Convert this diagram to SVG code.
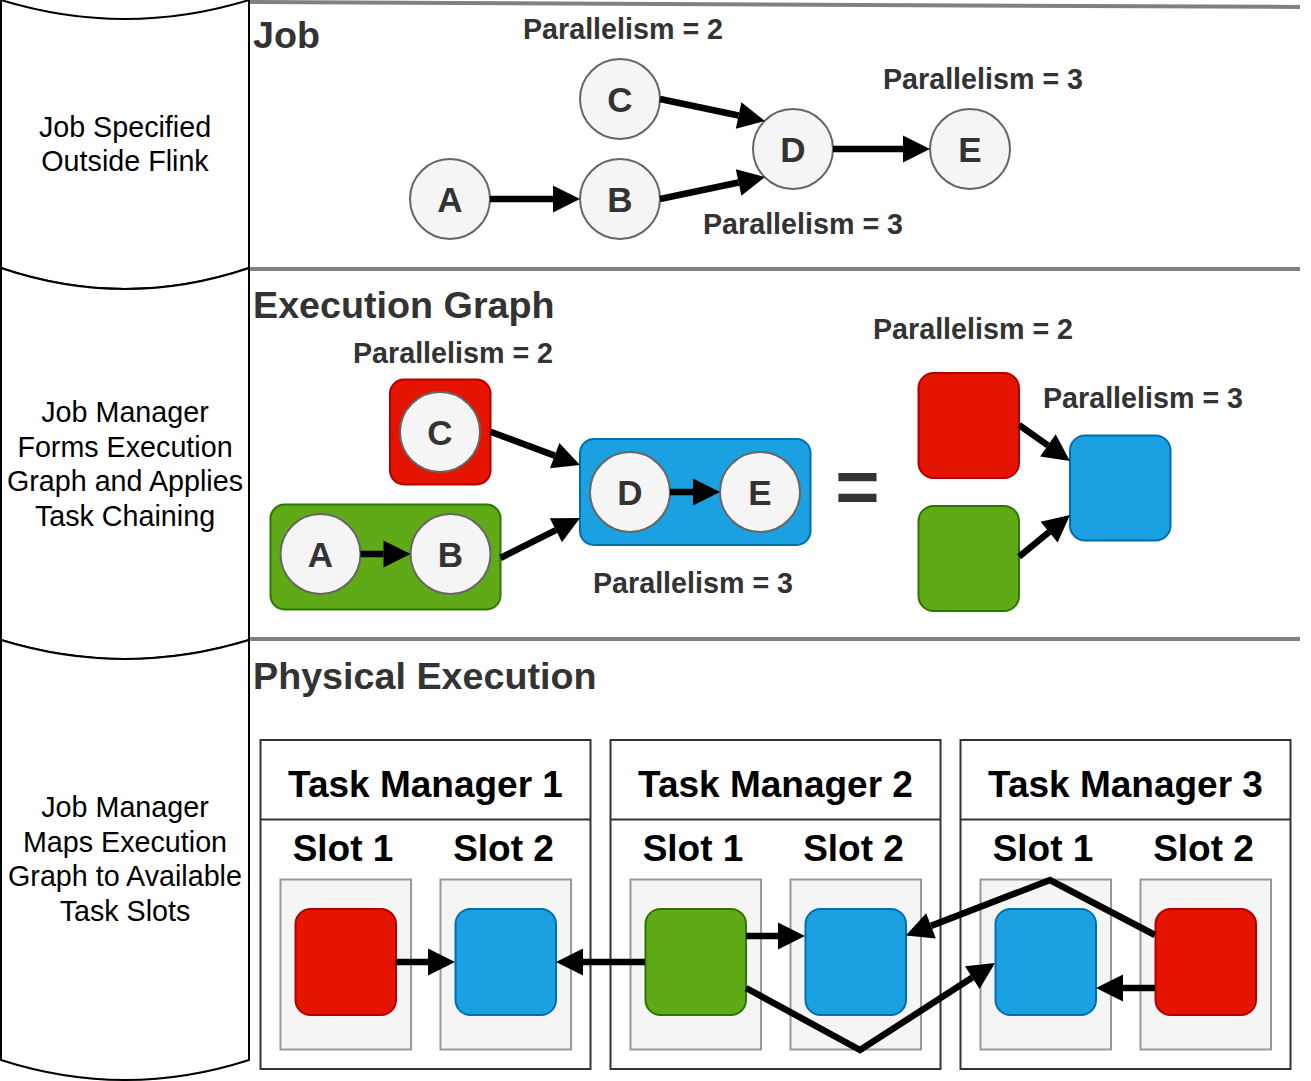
<svg xmlns="http://www.w3.org/2000/svg" width="1311" height="1081" viewBox="0 0 1311 1081">
<style>
text{font-family:"Liberation Sans",Arial,Helvetica,sans-serif}
.lbl{font-size:28.7px;fill:#000;text-anchor:middle}
.par{font-size:28.7px;font-weight:bold;fill:#333;text-anchor:middle}
.hdr{font-size:37.7px;font-weight:bold;fill:#333}
.tm{font-size:37px;font-weight:bold;fill:#000;text-anchor:middle}
.ltr{font-size:35px;font-weight:bold;fill:#333;text-anchor:middle}
.tape{fill:#fff;stroke:#000;stroke-width:2}
.sep{stroke:#808080;stroke-width:4;fill:none}
.circ{fill:#f5f5f5;stroke:#666;stroke-width:2}
.red{fill:#e51400;stroke:#b20000;stroke-width:2}
.blue{fill:#1ba1e2;stroke:#006eaf;stroke-width:2}
.green{fill:#60a917;stroke:#2d7600;stroke-width:2}
.tmbox{fill:#fff;stroke:#333;stroke-width:2}
.slot{fill:#f5f5f5;stroke:#999;stroke-width:2}
.edge{stroke:#000;stroke-width:6.5;fill:none;stroke-linejoin:miter;marker-end:url(#arr)}
</style>
<defs>
<marker id="arr" markerUnits="userSpaceOnUse" markerWidth="28" markerHeight="28" refX="0" refY="13.5" orient="auto" overflow="visible">
<path d="M0,0 L27,13.5 L0,27 Z" fill="#000"/>
</marker>
</defs>
<rect width="1311" height="1081" fill="#fff"/>

<g id="lanes">
<path class="tape" d="M1,0 Q125,38 249,0 L249,268 Q125,310 1,268 Z"/>
<path class="tape" d="M1,268 Q125,310 249,268 L249,640 Q125,678 1,640 Z"/>
<path class="tape" d="M1,640 Q125,678 249,640 L249,1060 Q125,1100 1,1060 Z"/>
<text class="lbl"><tspan x="125" y="137">Job Specified</tspan><tspan x="125" y="171">Outside Flink</tspan></text>
<text class="lbl"><tspan x="125" y="422">Job Manager</tspan><tspan x="125" y="456.5">Forms Execution</tspan><tspan x="125" y="491">Graph and Applies</tspan><tspan x="125" y="525.5">Task Chaining</tspan></text>
<text class="lbl"><tspan x="125" y="817">Job Manager</tspan><tspan x="125" y="851.5">Maps Execution</tspan><tspan x="125" y="886">Graph to Available</tspan><tspan x="125" y="920.5">Task Slots</tspan></text>
<line class="sep" x1="250" y1="2" x2="1300" y2="7"/>
<line class="sep" x1="250" y1="269" x2="1300" y2="269"/>
<line class="sep" x1="250" y1="639" x2="1300" y2="639"/>
</g>

<g id="titles">
<text class="hdr" x="253" y="48">Job</text>
<text class="hdr" x="253" y="318">Execution Graph</text>
<text class="hdr" x="253" y="689">Physical Execution</text>
<text class="par" x="623" y="39">Parallelism = 2</text>
<text class="par" x="983" y="89">Parallelism = 3</text>
<text class="par" x="803" y="234">Parallelism = 3</text>
<text class="par" x="453" y="363">Parallelism = 2</text>
<text class="par" x="973" y="339">Parallelism = 2</text>
<text class="par" x="1143" y="408">Parallelism = 3</text>
<text class="par" x="693" y="593">Parallelism = 3</text>
<text x="857.5" y="513" style="font-size:76px;font-weight:bold;fill:#333;text-anchor:middle">=</text>
</g>

<g id="job-A"><circle class="circ" cx="450" cy="199" r="40"/><text class="ltr" x="450" y="211.5">A</text></g>
<g id="job-B"><circle class="circ" cx="620" cy="199" r="40"/><text class="ltr" x="620" y="211.5">B</text></g>
<g id="job-C"><circle class="circ" cx="620" cy="99" r="40"/><text class="ltr" x="620" y="111.5">C</text></g>
<g id="job-D"><circle class="circ" cx="793" cy="149" r="40"/><text class="ltr" x="793" y="161.5">D</text></g>
<g id="job-E"><circle class="circ" cx="970" cy="149" r="40"/><text class="ltr" x="970" y="161.5">E</text></g>

<g id="eg-C"><rect class="red" x="390" y="379.5" width="100.5" height="105" rx="14"/><circle class="circ" cx="440" cy="432" r="40"/><text class="ltr" x="440" y="444.5">C</text></g>
<g id="eg-AB"><rect class="green" x="270.5" y="504.5" width="230" height="105" rx="14"/>
<circle class="circ" cx="320.5" cy="554" r="40"/><text class="ltr" x="320.5" y="566.5">A</text>
<circle class="circ" cx="450.5" cy="554" r="40"/><text class="ltr" x="450.5" y="566.5">B</text></g>
<g id="eg-DE"><rect class="blue" x="580" y="439" width="230.5" height="106" rx="14"/>
<circle class="circ" cx="630" cy="492" r="40"/><text class="ltr" x="630" y="504.5">D</text>
<circle class="circ" cx="760" cy="492" r="40"/><text class="ltr" x="760" y="504.5">E</text></g>

<g id="sq-red"><rect class="red" x="918.5" y="373" width="100.5" height="105" rx="15"/></g>
<g id="sq-green"><rect class="green" x="918.5" y="506" width="100.5" height="105" rx="15"/></g>
<g id="sq-blue"><rect class="blue" x="1070" y="435.5" width="100.5" height="105" rx="15"/></g>

<g id="tm1">
<rect class="tmbox" x="260.5" y="740" width="330" height="329"/>
<line x1="260.5" y1="819.5" x2="590.5" y2="819.5" stroke="#333" stroke-width="2"/>
<text class="tm" x="425.5" y="797">Task Manager 1</text>
<text class="tm" x="343" y="861">Slot 1</text>
<text class="tm" x="503.5" y="861">Slot 2</text>
<rect class="slot" x="280.5" y="879.5" width="130.5" height="170"/>
<rect class="slot" x="440.5" y="879.5" width="130.5" height="170"/>
<rect class="red" x="295.5" y="909" width="100.5" height="106" rx="15"/>
<rect class="blue" x="455.5" y="909" width="100.5" height="106" rx="15"/>
</g>
<g id="tm2">
<rect class="tmbox" x="610.5" y="740" width="330" height="329"/>
<line x1="610.5" y1="819.5" x2="940.5" y2="819.5" stroke="#333" stroke-width="2"/>
<text class="tm" x="775.5" y="797">Task Manager 2</text>
<text class="tm" x="693" y="861">Slot 1</text>
<text class="tm" x="853.5" y="861">Slot 2</text>
<rect class="slot" x="630.5" y="879.5" width="130.5" height="170"/>
<rect class="slot" x="790.5" y="879.5" width="130.5" height="170"/>
<rect class="green" x="645.5" y="909" width="100.5" height="106" rx="15"/>
<rect class="blue" x="805.5" y="909" width="100.5" height="106" rx="15"/>
</g>
<g id="tm3">
<rect class="tmbox" x="960.5" y="740" width="330" height="329"/>
<line x1="960.5" y1="819.5" x2="1290.5" y2="819.5" stroke="#333" stroke-width="2"/>
<text class="tm" x="1125.5" y="797">Task Manager 3</text>
<text class="tm" x="1043" y="861">Slot 1</text>
<text class="tm" x="1203.5" y="861">Slot 2</text>
<rect class="slot" x="980.5" y="879.5" width="130.5" height="170"/>
<rect class="slot" x="1140.5" y="879.5" width="130.5" height="170"/>
<rect class="blue" x="995.5" y="909" width="100.5" height="106" rx="15"/>
<rect class="red" x="1155.5" y="909" width="100.5" height="106" rx="15"/>
</g>

<g id="connectors">
<path class="edge" d="M490,199 L553,199"/>
<path class="edge" d="M660,99 L738.6,115.5"/>
<path class="edge" d="M660,199 L738.6,182.5"/>
<path class="edge" d="M833,149 L903,149"/>
<path class="edge" d="M360.5,554 L383.5,554"/>
<path class="edge" d="M670,492 L693,492"/>
<path class="edge" d="M490.5,431.7 L554.7,455.6"/>
<path class="edge" d="M500.5,558 L555.9,530.2"/>
<path class="edge" d="M1019,425 L1047.9,445.4"/>
<path class="edge" d="M1019,556.7 L1049.1,532.1"/>
<path class="edge" d="M396,962 L428,962"/>
<path class="edge" d="M645,962 L583,962"/>
<path class="edge" d="M746,936 L778,936"/>
<path class="edge" d="M746,988 L860,1050 L972.3,977.6"/>
<path class="edge" d="M1155,935 L1050,880 L931,925.9"/>
<path class="edge" d="M1155,988 L1123,988"/>
</g>
</svg>
